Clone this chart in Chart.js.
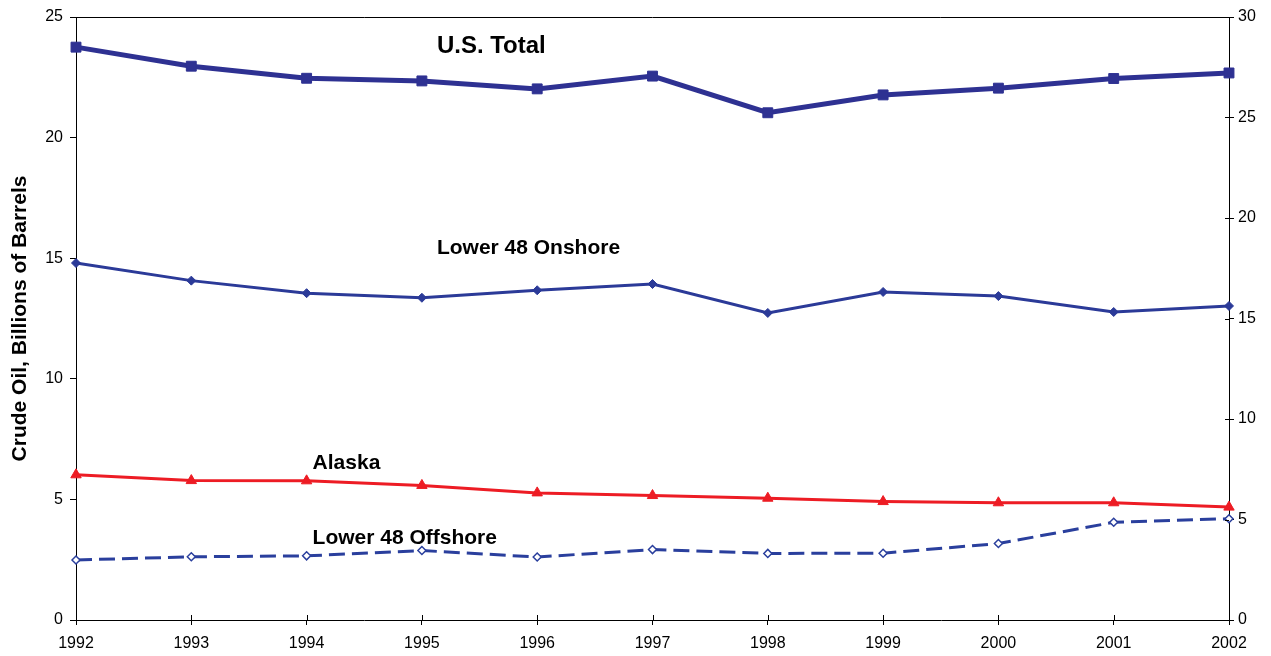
<!DOCTYPE html>
<html lang="en">
<head>
    <meta charset="UTF-8">
    <title>Crude Oil Reserves</title>
    <script src="https://cdn.jsdelivr.net/npm/chart.js"></script>
    <style>
        html, body { margin: 0; padding: 0; background: #fff; }
        canvas { display: block; }
    </style>
</head>
<body>
    <canvas id="oilChart" width="1271" height="656"></canvas>

    <script>
        const years = ['1992', '1993', '1994', '1995', '1996', '1997', '1998', '1999', '2000', '2001', '2002'];
        const usTotal = [23.75, 22.96, 22.46, 22.35, 22.02, 22.55, 21.03, 21.77, 22.05, 22.45, 22.68];
        const lower48Onshore = [14.8, 14.07, 13.55, 13.36, 13.67, 13.93, 12.73, 13.6, 13.43, 12.77, 13.02];
        const alaska = [6.02, 5.78, 5.77, 5.58, 5.27, 5.16, 5.05, 4.91, 4.86, 4.86, 4.68];
        const lower48Offshore = [2.49, 2.62, 2.66, 2.88, 2.61, 2.92, 2.76, 2.77, 3.17, 4.05, 4.2];
        const leftTicks = [0, 5, 10, 15, 20, 25];
        const rightTicks = [0, 5, 10, 15, 20, 25, 30];

        // series names drawn next to the lines: [text, year index, value, x shift, font size]
        const seriesLabels = [
            ['U.S. Total', 3, 23.8, 15, 24],
            ['Lower 48 Onshore', 3, 15.42, 15, 21],
            ['Alaska', 2, 6.5, 6, 21],
            ['Lower 48 Offshore', 2, 3.4, 6, 21]
        ];

        const font = 'Liberation Sans, Arial, Helvetica, sans-serif';

        const labelPlugin = {
            id: 'seriesLabels',
            afterDatasetsDraw(chart) {
                const ctx = chart.ctx;
                const x = chart.scales.x;
                const y = chart.scales.y;
                const y2 = chart.scales.y2;
                const a = chart.chartArea;
                ctx.save();
                ctx.fillStyle = '#000';
                ctx.textBaseline = 'middle';
                ctx.textAlign = 'left';
                seriesLabels.forEach(l => {
                    ctx.font = 'bold ' + l[4] + 'px ' + font;
                    ctx.fillText(l[0], x.getPixelForValue(l[1]) + l[3], y.getPixelForValue(l[2]));
                });
                // top frame line and inner halves of the crossing ticks
                ctx.strokeStyle = '#000';
                ctx.lineWidth = 1;
                ctx.beginPath();
                ctx.moveTo(a.left, a.top + 0.5);
                ctx.lineTo(a.right, a.top + 0.5);
                years.forEach((_, i) => {
                    const px = Math.round(x.getPixelForValue(i)) + 0.5;
                    ctx.moveTo(px, a.bottom - 5);
                    ctx.lineTo(px, a.bottom);
                });
                rightTicks.forEach(v => {
                    const py = Math.round(y2.getPixelForValue(v)) + 0.5;
                    ctx.moveTo(a.right - 4, py);
                    ctx.lineTo(a.right, py);
                });
                ctx.stroke();
                ctx.restore();
            }
        };

        new Chart(document.getElementById('oilChart').getContext('2d'), {
            type: 'line',
            data: {
                labels: years,
                datasets: [
                    {
                        label: 'U.S. Total',
                        data: usTotal,
                        borderColor: '#2E3192',
                        backgroundColor: '#2E3192',
                        borderWidth: 5,
                        pointStyle: 'rect',
                        pointRadius: 7,
                        pointBorderWidth: 1,
                        tension: 0
                    },
                    {
                        label: 'Lower 48 Onshore',
                        data: lower48Onshore,
                        borderColor: '#2B3A98',
                        backgroundColor: '#2B3A98',
                        borderWidth: 3,
                        pointStyle: 'rectRot',
                        pointRadius: 4.5,
                        pointBorderWidth: 1,
                        tension: 0
                    },
                    {
                        label: 'Alaska',
                        data: alaska,
                        borderColor: '#ED1C24',
                        backgroundColor: '#ED1C24',
                        borderWidth: 3,
                        pointStyle: 'triangle',
                        pointRadius: 6,
                        pointBorderWidth: 1,
                        tension: 0
                    },
                    {
                        label: 'Lower 48 Offshore',
                        data: lower48Offshore,
                        borderColor: '#2A3F9D',
                        backgroundColor: '#ffffff',
                        borderWidth: 3,
                        borderDash: [16, 7],
                        pointStyle: 'rectRot',
                        pointRadius: 4,
                        pointBorderWidth: 1.5,
                        tension: 0
                    }
                ]
            },
            options: {
                responsive: false,
                animation: false,
                layout: { padding: { top: 17, left: 0, right: 0, bottom: 0 } },
                plugins: {
                    legend: { display: false },
                    tooltip: { enabled: false }
                },
                scales: {
                    x: {
                        offset: false,
                        afterFit: s => { s.height = 36; },
                        grid: { drawOnChartArea: false, color: '#000', tickLength: 5 },
                        border: { color: '#000', width: 1 },
                        ticks: { color: '#000', font: { family: font, size: 16 }, padding: 9, maxRotation: 0 }
                    },
                    y: {
                        position: 'left',
                        min: 0,
                        max: 25,
                        afterFit: s => { s.width = 76; },
                        afterBuildTicks: s => { s.ticks = leftTicks.map(v => ({ value: v })); },
                        grid: { drawOnChartArea: false, color: '#000', tickLength: 6 },
                        border: { color: '#000', width: 1 },
                        ticks: { color: '#000', font: { family: font, size: 16 }, padding: 7 },
                        title: {
                            display: true,
                            text: 'Crude Oil, Billions of Barrels',
                            color: '#000',
                            font: { family: font, size: 21, weight: 'bold' },
                            padding: { top: 8, bottom: 0 }
                        }
                    },
                    y2: {
                        position: 'right',
                        min: 0,
                        max: 30,
                        afterFit: s => { s.width = 42; },
                        afterBuildTicks: s => { s.ticks = rightTicks.map(v => ({ value: v })); },
                        grid: { drawOnChartArea: false, color: '#000', tickLength: 5 },
                        border: { color: '#000', width: 1 },
                        ticks: { color: '#000', font: { family: font, size: 16 }, padding: 4 }
                    }
                }
            },
            plugins: [labelPlugin]
        });
    </script>
</body>
</html>
